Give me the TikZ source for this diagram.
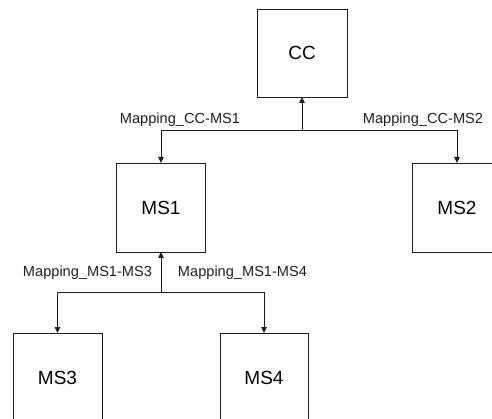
\documentclass[tikz,border=0pt]{standalone}
\usepackage{fontspec}
\setmainfont{Liberation Sans}
\usetikzlibrary{arrows.meta}
\definecolor{ink}{gray}{0.12}
\tikzset{
  unit/.style={draw=ink, line width=0.9pt, inner sep=0pt, outer sep=0pt,
    minimum width=89pt, minimum height=89pt, text=black,
    font=\fontsize{19}{22}\selectfont},
  link/.style={draw=ink, line width=0.9pt, -{Triangle[length=6pt,width=5.5pt]}},
  maplabel/.style={anchor=base, inner sep=0pt, text=ink,
    font=\fontsize{14.6}{17}\selectfont}
}
\begin{document}
\begin{tikzpicture}[x=1pt,y=-1pt]
  \useasboundingbox (0,0) rectangle (492,419);
  \clip (0,0) rectangle (492,419);
  % units
  \node[unit, minimum width=90pt, minimum height=88pt] (cc) at (302,53) {CC};
  \node[unit] (ms1) at (161,207.5) {MS1};
  \node[unit, minimum width=90pt] (ms2) at (457,207.5) {MS2};
  \node[unit] (ms3) at (57.5,377.5) {MS3};
  \node[unit, minimum width=88pt] (ms4) at (264,377.5) {MS4};
  % junctions
  \coordinate (j1) at (302,130);
  \coordinate (j2) at (161,292);
  % connectors
  \draw[link] (j1) -- (cc.south);
  \draw[link] (j1) -| (ms1.north);
  \draw[link] (j1) -| (ms2.north);
  \draw[link] (j2) -- (ms1.south);
  \draw[link] (j2) -| (ms3.north);
  \draw[link] (j2) -| (ms4.north);
  % mapping labels
  \node[maplabel] (l1) at (180,124) {Mapping\_CC-MS1};
  \node[maplabel] (l2) at (423,124) {Mapping\_CC-MS2};
  \node[maplabel] (l3) at (87.5,277) {Mapping\_MS1-MS3};
  \node[maplabel] (l4) at (242.5,277) {Mapping\_MS1-MS4};
\end{tikzpicture}
\end{document}
